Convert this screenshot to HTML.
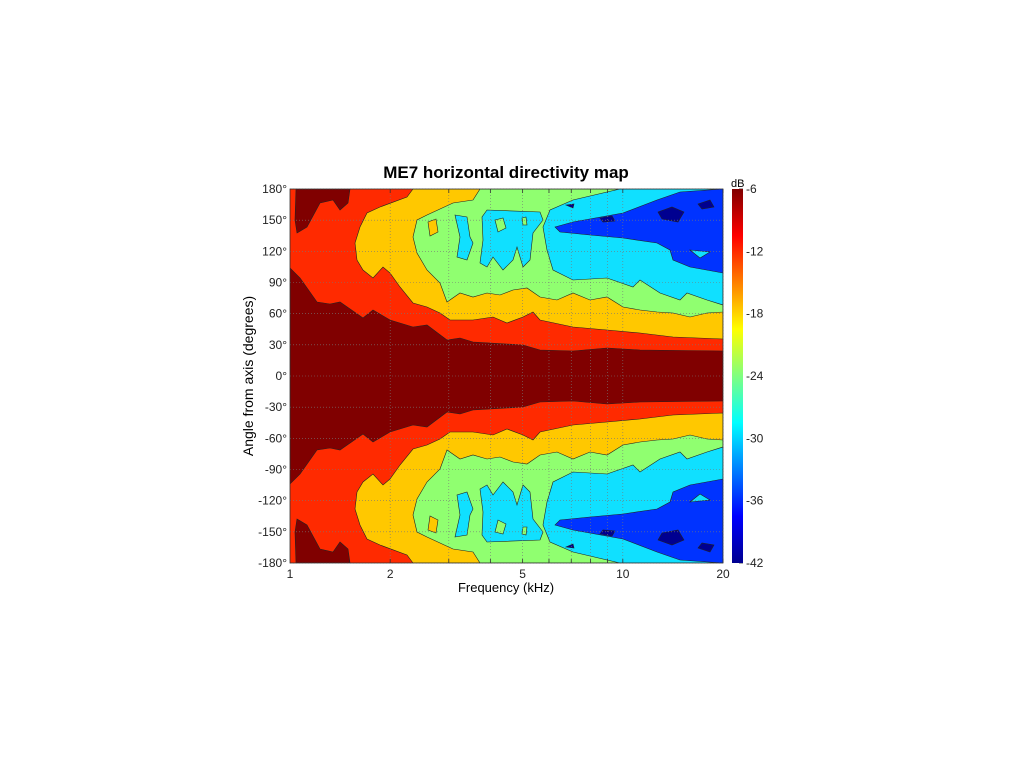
<!DOCTYPE html>
<html><head><meta charset="utf-8"><style>
body{margin:0;background:#fff;}
svg{display:block;font-family:"Liberation Sans",sans-serif;}
</style></head><body>
<svg id="s" width="1024" height="768" viewBox="0 0 1024 768" xmlns="http://www.w3.org/2000/svg">
<defs>
<linearGradient id="jet" x1="0" y1="1" x2="0" y2="0">
<stop offset="0" stop-color="#00008f"/>
<stop offset="0.125" stop-color="#0000ff"/>
<stop offset="0.375" stop-color="#00ffff"/>
<stop offset="0.625" stop-color="#ffff00"/>
<stop offset="0.875" stop-color="#ff0000"/>
<stop offset="1" stop-color="#800000"/>
</linearGradient>
<clipPath id="c"><rect x="290" y="189" width="433" height="374"/></clipPath>
</defs>
<text x="506" y="178" text-anchor="middle" font-size="17" font-weight="bold">ME7 horizontal directivity map</text>
<g id="plot" clip-path="url(#c)"><rect x="290" y="189" width="433" height="374" fill="#ff2a00"/></g>
<g id="grid" stroke="#777" stroke-width="0.6" stroke-dasharray="1,2" fill="none"></g>
<rect x="290" y="189" width="433" height="374" fill="none" stroke="#333" stroke-width="0.8"/>
<g id="ticks" font-size="12" fill="#222"></g>
<text x="506" y="592" text-anchor="middle" font-size="13">Frequency (kHz)</text>
<text transform="translate(253,376) rotate(-90)" text-anchor="middle" font-size="14">Angle from axis (degrees)</text>
<rect x="732" y="189" width="11" height="374" fill="url(#jet)"/>
<text x="731" y="187" font-size="11">dB</text>
</svg>
<script>
const NS="http://www.w3.org/2000/svg";
const plot=document.getElementById('plot');
function poly(pts,fill,stroke){const p=document.createElementNS(NS,'polygon');p.setAttribute('points',pts.map(q=>q.join(',')).join(' '));p.setAttribute('fill',fill);p.setAttribute('stroke',stroke||'#222');p.setAttribute('stroke-width','0.6');plot.appendChild(p);}
const m=a=>a.map(([x,y])=>[x,752-y]);
function both(pts,fill){poly(pts,fill);poly(m(pts),fill);}
// core
const core=[[290,268],[300,278],[317,302],[330,304],[340,302],[363,318],[373,310],[390,320],[413,327],[427,325],[447,340],[460,338],[473,342],[523,345],[540,350],[573,351],[607,348],[640,350],[723,351]];
poly(core.concat(m(core).reverse()),'#800000');
const tl=[[296,189],[350,189],[348,203],[340,210],[333,200],[320,203],[307,227],[297,233],[295,220]];
both(tl,'#800000');
const yel=[[413,189],[407,197],[380,207],[367,213],[360,227],[355,243],[357,260],[363,270],[373,278],[383,267],[390,273],[400,287],[413,303],[427,307],[440,313],[450,320],[473,320],[493,317],[507,323],[523,317],[533,312],[540,320],[573,327],[607,330],[640,333],[673,337],[723,339],[723,189]];
both(yel,'#ffc800');
const grn=[[480,189],[473,200],[453,203],[427,215],[417,220],[413,237],[417,253],[427,270],[440,283],[447,302],[460,293],[473,297],[487,293],[500,295],[513,290],[527,288],[540,297],[557,300],[573,293],[590,300],[607,297],[623,307],[640,310],[657,312],[673,313],[690,317],[707,313],[723,312],[723,189]];
both(grn,'#90ff70');
both([[428,222],[436,219],[438,232],[430,236]],'#ffc800');
const cy=[[620,189],[573,200],[550,210],[543,227],[547,250],[553,270],[573,280],[607,278],[633,287],[640,280],[660,293],[680,300],[687,293],[707,300],[723,305],[723,189]];
both(cy,'#10e0ff');
both([[455,215],[467,217],[470,237],[473,243],[467,260],[457,257],[460,237]],'#10e0ff');
both([[487,210],[540,212],[543,220],[533,233],[530,260],[523,267],[517,247],[513,260],[503,270],[493,257],[487,267],[480,263],[483,240],[482,217]],'#10e0ff');
both([[495,220],[503,218],[506,228],[498,232]],'#90ff70');
both([[522,218],[526,217],[527,225],[523,225]],'#90ff70');
const bl=[[573,222],[555,227],[560,232],[590,235],[623,238],[657,243],[670,250],[673,260],[690,267],[723,273],[723,189],[680,192],[657,200],[623,213]];
both(bl,'#0033ff');
both([[690,250],[710,252],[700,258]],'#10e0ff');
both([[600,218],[612,216],[615,221],[603,222]],'#000090');
both([[658,212],[672,207],[684,212],[678,222],[662,219]],'#000090');
both([[698,204],[710,200],[714,207],[702,209]],'#000090');
both([[566,205],[574,204],[573,208]],'#000090');
// grid & ticks
const g=document.getElementById('grid'),t=document.getElementById('ticks');
function line(x1,y1,x2,y2,par,st){const l=document.createElementNS(NS,'line');l.setAttribute('x1',x1);l.setAttribute('y1',y1);l.setAttribute('x2',x2);l.setAttribute('y2',y2);if(st){l.setAttribute('stroke',st);l.setAttribute('stroke-width','0.8');}par.appendChild(l);}
function txt(x,y,s,a){const e=document.createElementNS(NS,'text');e.setAttribute('x',x);e.setAttribute('y',y);e.setAttribute('text-anchor',a);e.textContent=s;t.appendChild(e);}
const X=f=>290+433*Math.log10(f)/Math.log10(20);
[2,3,4,5,6,7,8,9,10,20].forEach(f=>{line(X(f),189,X(f),563,g);line(X(f),563,X(f),559,t,'#333');line(X(f),189,X(f),193,t,'#333');});
[1,2,5,10,20].forEach(f=>txt(X(f),578,String(f),'middle'));
for(let a=-180;a<=180;a+=30){const y=376-a*374/360;line(290,y,723,y,g);txt(287,y+4,a+'°','end');}
[-6,-12,-18,-24,-30,-36,-42].forEach((v,i)=>{const y=189+i*374/6;line(739,y,743,y,t,'#333');txt(746,y+4,String(v),'start');});
</script>
</body></html>
